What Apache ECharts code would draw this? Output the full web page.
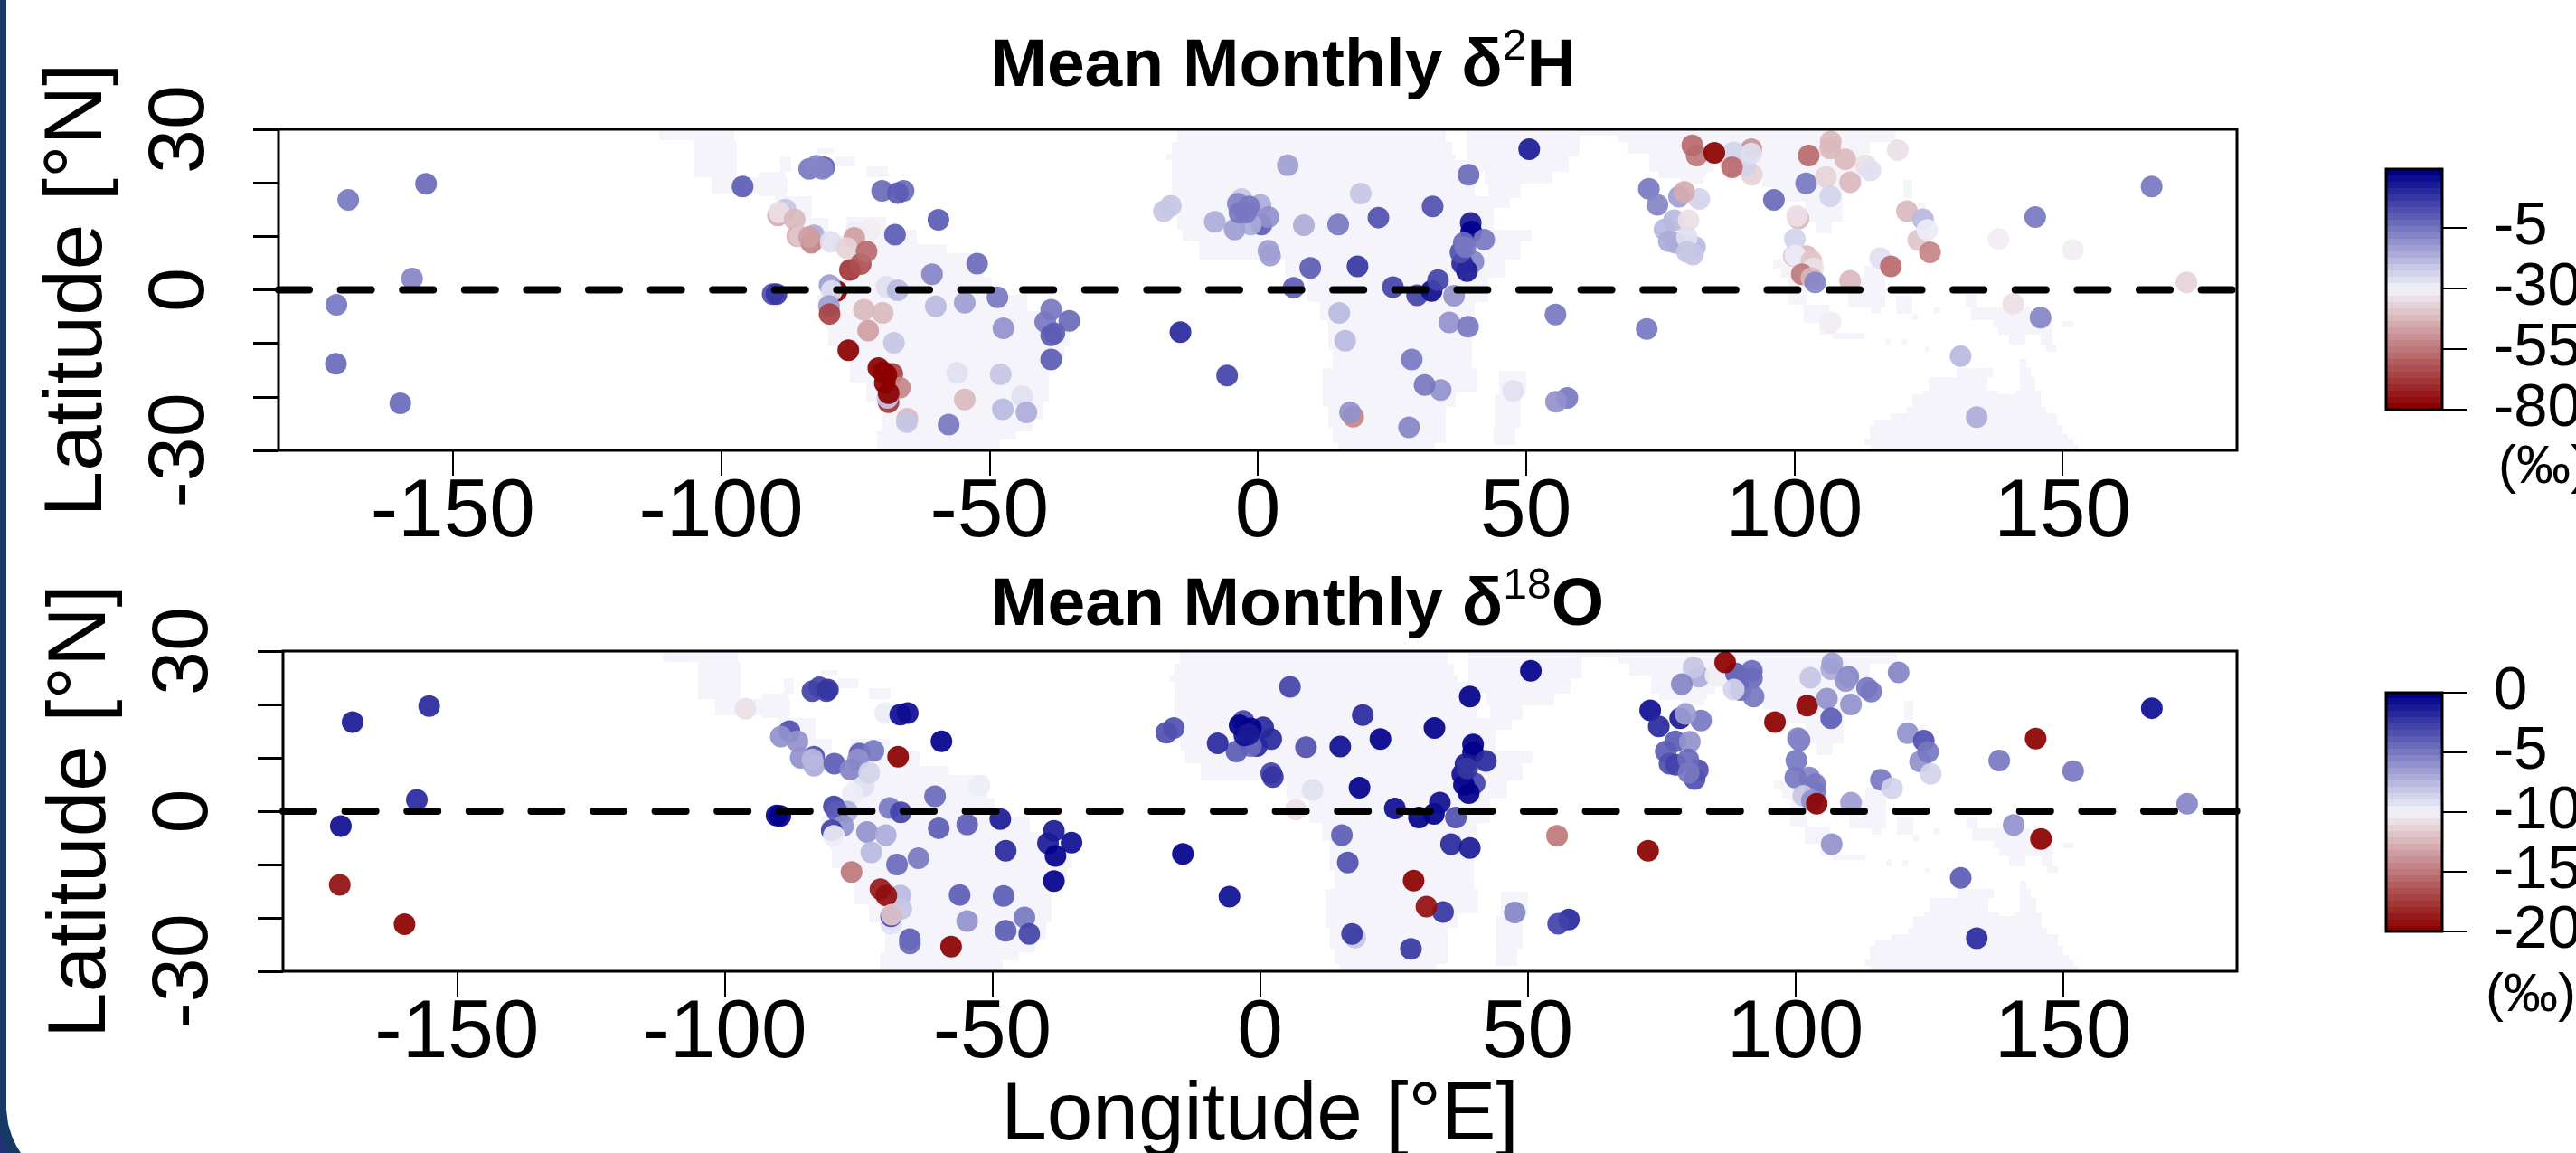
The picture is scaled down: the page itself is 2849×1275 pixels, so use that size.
<!DOCTYPE html>
<html>
<head>
<meta charset="utf-8">
<style>html,body{margin:0;padding:0;background:#fff}#c{width:2849px;height:1275px}</style>
<script src="https://cdn.jsdelivr.net/npm/echarts@6/dist/echarts.min.js"></script>
</head>
<body>
<div id="c"></div>
<script>
// Mean monthly d2H stations: [longitude, latitude, value in permil]
const h2Stations = [
[-169.5,16.8,-5],[-155,19.8,-2],[-157.6,2.1,-8],[-171.7,-2.8,-6],[-171.8,-13.8,-2],[-159.8,-21.2,-3],[-96,19.3,-1],
[-80.8,22.9,-1],[-83.6,22.6,-6],[-81.1,22.6,-8],[-82.2,23.2,-7],[-70,18.5,-1.5],[-66,18.5,-2],[-67.1,18.1,-0.5],[-59.5,13.1,0],[-67.6,10.3,-1],
[-88,15,-21],[-89.4,13.9,-45],[-89.2,14.5,-35],[-86.3,13.2,-42],[-85.8,10,-45],[-82.7,10.2,-15],[-85.4,10,-40],[-83.2,8.8,-52],[-83.6,9.9,-48],
[-74.9,10.8,-29],[-72.3,11.3,-30],[-79.6,9,-25],[-75.2,9.7,-48],[-76.6,7.8,-36],[-76,3.7,-67],[-74,4.8,-62],[-72.9,7.2,-58],
[-78.5,-0.2,-80],[-79.8,0.9,-12],[-79.4,-0.2,-25],[-69.2,0.6,-27],[-67.1,-0.1,-19],[-60.7,2.9,-8],[-52.3,4.9,-3],[-60,-3.1,-18],[-54.6,-2.4,-12],[-48.5,-1.4,-6],
[-38.5,-3.7,-5],[-39.6,-6,-6],[-35.1,-5.8,-2],[-37.9,-8.1,-1],[-38.5,-8.5,1],[-47.4,-7.2,-10],[-38.5,-13,-1],[-90.4,-0.8,3],[-89.7,-0.8,8],
[-79.9,-3,-14],[-79.8,-4.5,-65],[-73.4,-3.7,-42],[-69.9,-4.3,-43],[-72.6,-7.6,-47],[-67.8,-9.9,-21],[-76.3,-11.3,-80],
[-68.1,-15.7,-65],[-66.7,-18.3,-52],[-68.8,-21,-68],[-69,-20.2,-22],[-70.7,-14.6,-80],[-69.8,-15.4,-80],[-69.2,-15.9,-80],[-69.5,-17.4,-80],[-68.8,-19.3,-80],
[-65.3,-24.1,-42],[-65.4,-24.7,-21],[-57.6,-25.2,-5],[-56,-15.5,-25],[-47.9,-15.8,-21],[-54.6,-20.5,-42],[-47.5,-22.3,-18],[-43.9,-19.9,-26],[-43.1,-22.9,-15],
[50.6,26.3,14],[5.6,23.3,-12],[39.3,21.5,-3],[72.9,18.9,-4],[19.2,18,-21],[32.6,15.6,4],[-16.2,15.7,-21],[-17.5,14.7,-20],
[-3,17,-20],[0.5,15.9,-15],[0.7,12.2,0],[-3.7,16.1,-8],[-1.6,15.6,-6],[2,13.6,-11],[-1.3,12.2,-15],[-4.3,11.3,-14],[-3.4,14.4,-6],[-2.2,14.4,-4],[-8,12.7,-16],
[8.6,12.1,-16],[15,12.2,-5],[22.5,13.5,4],[2,7.3,-12],[2.3,6.4,-12],[9.8,4.1,-1],[18.6,4.4,7],[6.7,0.4,1],[25.2,0.5,5],[36.6,-1.1,-11],[29.7,-1,6],[32.4,-0.2,15],[33.6,1.8,5],
[35.7,-6.1,-9],[39.2,-6.9,-6],[55.5,-4.6,-5],[15.2,-4.3,-17],[16.3,-9.5,-18],[28.7,-13,-5],[34.1,-18.7,-9],[31.1,-17.8,-4],[47.6,-18.9,-26],[57.7,-20.2,-5],[55.6,-20.9,-9],
[-14.4,-7.9,12],[-5.7,-16,6],[17.8,-23.7,-52],[17.2,-22.9,-11],[28.2,-25.7,-8],
[39.7,12.5,14],[39.8,10.9,20],[42.2,9.4,-4],[40.2,5.3,-8],[39,3.5,13],[38.1,4.9,11],[37.8,7,3],[38.4,8.8,-3],[38.7,8,-6],
[81.8,25.1,-55],[81,27,-58],[92,26.3,-50],[92.1,21.5,-36],[90.9,23.2,-24],[88.7,25.7,-24],[85.1,25.6,-80],[92,25.5,-26],[88.4,22.9,-58],
[74.5,15.9,-8],[78.5,17.4,-12],[82.3,17,-24],[79.5,18.3,-44],[77.6,13,-19],[75.8,11.3,-19],[80.3,13,-34],[76.6,9.1,-16],[77.9,8.8,-15],[81.5,8,-18],[80,9.8,-26],[80,7.1,-20],[81.1,6.6,-20],
[96.2,16.8,-3],[102.7,25.1,-58],[102.2,19.9,-6],[106.7,26.4,-42],[106.8,27.7,-43],[109.5,24.4,-42],[113.3,23.3,-35],[114.2,22.3,-27],[105.9,21.1,-36],[110.4,20.1,-41],[106.7,17.5,-24],[119.3,26.1,-35],
[100.8,13.3,-42],[100.5,13.8,-35],[100.1,9.5,-24],[102.3,6.3,-42],[99.9,6.3,-38],[100.2,6.4,-28],[103.2,5.4,-38],[103.5,4,-33],[101.4,2.9,-55],[103.2,2.2,-43],[103.9,1.4,-8],[110.4,1.7,-42],
[116,5.9,-27],[118,4.4,-58],[121,14.7,-41],[124,13.2,-18],[123.1,9.3,-39],[124.8,11.2,-29],[125.3,7,-53],[138.1,9.5,-30],[144.9,13.6,-5],[151.9,7.5,-30],
[140.8,-2.6,-34],[145.9,-5.2,-8],[106.8,-6.1,-31],[131,-12.4,-19],[134,-23.8,-15],[72.5,-7.3,-4],[166.6,19.3,-5],[173.1,1.4,-37]
];
// Mean monthly d18O stations: [longitude, latitude, value in permil]
const o18Stations = [
[-169.5,16.7,-1.5],[-155.2,19.7,-2],[-157.5,2.1,-2],[-171.7,-2.8,-1],[-171.9,-13.8,-19],[-159.8,-21.2,-20],[-96.1,19.2,-11],
[-83.6,22.5,-3],[-82.3,23.2,-3],[-81,22.5,-3],[-80.7,22.8,-2.5],[-70,18.4,-9.5],[-67.2,18.1,-1],[-65.8,18.4,-1],[-59.5,13.1,-0.5],[-67.6,10.2,-20],
[-87.9,15,-3.5],[-89.5,14,-6],[-86.4,13.1,-6],[-83.3,10.2,-3.5],[-85.8,10,-6],[-83.3,8.5,-7],[-83.6,9.7,-7.5],[-79.5,8.9,-4],
[-74.8,10.8,-4],[-72.2,11.3,-5],[-75.1,9.7,-6],[-76.5,7.8,-5.5],[-74,4.7,-9],[-76.1,3.3,-9.5],[-73,7.2,-8.5],
[-77.1,-0.1,-7],[-79.6,0.9,-3],[-79,-0.1,-4],[-69.2,0.6,-5],[-67.1,-0.2,-3],[-60.7,2.8,-4.5],[-52.4,4.8,-9.5],[-60,-3.2,-4],[-54.7,-2.5,-4],[-48.5,-1.5,-1.5],
[-38.5,-3.7,-1.5],[-39.6,-6,-1.5],[-35.2,-5.9,-1],[-38.2,-8.4,-0.5],[-47.5,-7.4,-2],[-38.5,-13.1,-0.5],[-90.3,-0.8,0],[-89.6,-0.9,0],
[-77.9,-2.8,-6],[-80,-3.6,-3],[-79.6,-4.6,-9.5],[-73.4,-3.9,-6],[-69.9,-4.5,-7],[-72.6,-7.7,-7.5],[-67.8,-10,-4.5],[-63.8,-8.8,-5],[-76.3,-11.4,-15],
[-67.2,-15.8,-7.5],[-67,-18.3,-8],[-68.9,-21.1,-9],[-68.9,-19.7,-3],[-70.9,-14.6,-18.5],[-69.8,-15.8,-19],[-68.8,-19.4,-12],
[-65.4,-24,-4],[-65.4,-24.8,-4.5],[-57.7,-25.4,-20],[-56.1,-15.7,-4],[-47.9,-15.9,-4],[-54.7,-20.6,-6],[-44,-19.9,-5],[-47.5,-22.4,-4],[-43.1,-23,-3],
[50.6,26.3,0],[5.6,23.3,-3],[39.2,21.5,0],[19.2,18,-2],[32.6,15.6,0],[-16.1,15.6,-3.5],[-17.5,14.7,-3.5],
[-3.1,16.9,-3],[0.6,15.7,-2],[-0.6,12.2,-2],[-1.7,15.5,0],[-3.8,16.1,-0.5],[2.1,13.5,-2],[-1.7,12.2,-4.5],[-4.4,11.2,-4],[-2.9,14.2,-1],[-2.1,14.4,-1.5],[-7.9,12.7,-2],
[8.6,12,-3.5],[15,12.1,-1],[22.5,13.5,-0.5],[2.1,7.1,-3],[2.4,6.4,-2.5],[9.8,4,-9],[18.6,4.4,-0.5],[6.7,0.3,-11],[25.2,0.5,-1],[36.6,-1.2,-3.5],[29.7,-1.2,-0.5],[32.5,-0.5,-0.5],[33.6,1.6,-1],
[35.7,-6.2,-2],[39.2,-6.9,-1.5],[55.5,-4.6,-15],[15.3,-4.5,-4],[16.4,-9.6,-3.5],[28.7,-13,-20],[34.2,-18.9,-2.5],[31.1,-17.9,-19],[47.6,-19,-5.5],[57.7,-20.3,-2],[55.7,-21.1,-3],
[-14.4,-8,0],[-5.7,-16,-1],[17.8,-23.7,-8],[17.2,-23,-2.5],[28.2,-25.8,-2.5],
[39.8,12.5,0],[39.8,11,0],[42.2,9.4,-2],[40.1,5.2,-3],[39,3.4,-0.5],[38.1,4.9,0],[37.8,6.9,-1],[38.4,8.8,-1.5],[38.7,8,-2.5],
[72.9,18.9,-1],[82,25.2,-7],[81,26.9,-8],[78.8,23.8,-5.5],[85.1,25.5,-10.5],[88.9,25.8,-4],[89.8,22.7,-4.5],[91.9,26.3,-4.5],[91.9,24.9,-4.5],[92.2,21.5,-5],[88.5,22.8,-8.5],[86.9,27.9,-20],
[74.5,15.9,-2],[78.5,17.4,-1.5],[82.4,17,-5],[79.5,18.2,-6.5],[77.6,13.1,-4],[75.8,11.2,-4],[80.3,13,-6],[76.5,8.9,-3.5],[77.7,8.7,-3],[81.8,7.7,-3.5],[81.2,6,-3.5],[80,9.7,-4.5],[80.1,7.2,-5],
[96.2,16.7,-20],[102.2,19.8,-20],[106.7,26.6,-7],[106.9,27.7,-6.5],[109.9,25.2,-5.5],[109.4,24.4,-6],[113.4,23.1,-5],[114.2,22.4,-5],[102.8,25,-8],[105.9,21.1,-6],[110.4,20,-6],[106.7,17.4,-4],[119.3,26,-5.5],
[100.8,13.3,-5],[100.5,13.7,-5.5],[100.2,9.5,-5],[102.6,6.3,-5.5],[100,6.3,-5],[103.7,5.1,-5],[103.7,3.7,-5],[101.5,2.9,-8],[103.1,2,-6],[104,1.4,-20],[110.4,1.6,-6.5],
[116,5.9,-5],[118.1,4.3,-8.5],[121,14.6,-6],[124,13.2,-3.5],[123.3,9.3,-6],[124.8,11.1,-5],[125.3,7,-8.5],[138.1,9.5,-5],[144.9,13.6,-20],[151.9,7.5,-5],
[140.8,-2.6,-6],[145.9,-5.2,-20],[106.8,-6.2,-6],[130.9,-12.5,-4],[133.9,-23.8,-2],[72.5,-7.4,-20],[166.6,19.3,-1],[173.2,1.4,-5.5]
];
// Land cells behind the stations: [latTop, latBottom, lonWest, lonEast]
const landRuns = [
// North and Central America
[30,28,-111.5,-97.5],[28,21,-105,-97],[21,18,-101.7,-87.7],[25,22,-89,-87],[22,17.5,-93,-88],[17.5,13.5,-90,-83],[13.5,10,-87,-80],[10,8,-84,-76],
[26.5,25.5,-82,-79],[25,23,-78.8,-75],[23,21,-73,-69],
// South America
[13.6,11.3,-76.6,-69.2],[11.3,8.5,-77,-63.6],[8.5,6.8,-76.6,-58],[6.8,2.3,-77,-51],[2.3,-1,-80,-49.6],[-1,-3.9,-82,-43],[-3.9,-7.2,-80.5,-36],[-7.2,-10.6,-80,-35],
[-10.6,-12.9,-77,-36],[-12.9,-17.4,-76,-39],[-17.4,-20.8,-73,-39],[-20.8,-24.1,-70,-40],[-24.1,-26.4,-70,-42],[-26.4,-28,-71,-45],[-28,-30,-71,-48],
// Africa
[30,27.7,-15,35],[27.7,25.4,-16,36.3],[25.4,24.3,-17,36.9],[24.3,17.5,-16,40.5],[17.5,15.3,-15,43],[15.3,11.3,-15,44],[11.3,9,-14,51],[9,5.7,-11,49],[5.7,2.3,5,46.2],
[2.3,-2.2,9.2,43],[-2.2,-5.6,11.6,40.5],[-5.6,-11.2,13.1,40],[-11.2,-14.6,14,40],[-14.6,-19.1,12.2,40.8],[-19.1,-21.9,12.2,36.9],[-21.9,-25.8,13.1,35.1],[-25.8,-28.7,14,35.1],[-28.7,-30,15,33],
// Madagascar
[-15.1,-19.6,45,50],[-19.6,-25.8,44.1,49],[-25.8,-29,44,48],
// Arabia and the Near East
[29.6,24.9,39,60],[24.9,22,39,58],[22,19.8,42.3,55],[19.8,17.2,43,49],[17.2,15.3,43,47],[30,28.9,59,67],
// Asia
[29.6,27.7,67,119],[27.7,25.4,69,114],[25.4,23.2,73,113],[23.2,22.1,73,85],[22.1,20.9,74.6,83.6],[20.9,19.8,78.8,83],[23.2,20.9,91,112.5],[20.9,19.2,94,112.5],[19.2,16.4,96,109],[16.4,12.7,102,109],[12.7,10.5,104,107],
// Malay Peninsula, Sumatra and Java
[5.7,4,96,100],[4,2.3,97.5,101],[2.3,-2.8,99,102.3],[-2.8,-6.1,101.7,106.5],[-6.1,-8.4,104.7,107.7],[-8.1,-9.2,107,113],
// Borneo and islands
[4.4,2.3,113,116.7],[2.3,-3.3,110,117],[-3.3,-4.4,114.3,116.1],[20.6,17.2,120.4,122],[16.1,15,123,124.3],[-1.1,-4.4,119,122],[-4.4,-5.6,122,123],[-3.3,-4.4,126,127],[-5.8,-7,137,139],[-9.2,-10.3,117,118],[-9.2,-10.3,120,121],[-10.6,-11.5,124.3,125],
// New Guinea and neighbours
[-1,-3.3,132,134],[-3.3,-5.6,133,144],[-5.6,-8.4,138,148],[-8.4,-10.3,140,143],[-8.4,-10.3,146,148],[-10.3,-11.5,147,149],[-5.9,-7,150,152],
// Australia
[-13,-14.6,142,143.2],[-14.6,-16.3,130.3,137],[-14.6,-16.3,142,144],[-16.3,-18.9,125,136],[-16.3,-18.9,142,145],[-18.9,-19.6,124,138],[-18.9,-19.6,141,146],[-19.6,-21.9,122,146],[-21.9,-23,121,147],[-23,-24.2,118,149],[-24.2,-25.3,115,149],[-25.3,-27,114,150],[-27,-27.8,114,151],[-27.8,-29,113,152],[-29,-30,114,153]
];
const lonTicks = [-150,-100,-50,0,50,100,150];
const latLabels = [-30,0,30];
const h2BarStep = 25;   // colour key ticks -80, -55, -30, -5
const o18BarStep = 10;  // colour key ticks -20, -10, 0 and, on a second scale, -15, -5
const zeroLine = [[-182.5,0],[182.5,0]];
const titleH2 = '{a|Mean Monthly \u03b4}{s|2}{a|H}';
const titleO18 = '{a|Mean Monthly \u03b4}{s|18}{a|O}';

const FONT = '"Liberation Sans", Arial, sans-serif';
const ramp = ['#8B0000','#F4F4FA','#00008B'];
const chart = echarts.init(document.getElementById('c'), null, {renderer:'canvas'});

const richTitle = {
  a:{fontFamily:FONT,fontSize:75,fontWeight:'bold',color:'#000',lineHeight:90},
  s:{fontFamily:FONT,fontSize:48,fontWeight:'normal',color:'#000',lineHeight:90,verticalAlign:'top'}
};
function xAxisFor(i, extra){
  return Object.assign({
    type:'value', gridIndex:i, min:-182.5, max:182.5, splitLine:{show:false},
    axisLine:{show:false,onZero:false},
    axisTick:{show:true,length:28,inside:false,lineStyle:{color:'#000',width:2},customValues:lonTicks},
    axisLabel:{show:true,fontFamily:FONT,fontSize:91,color:'#000',margin:24,customValues:lonTicks,showMinLabel:true,showMaxLabel:true,hideOverlap:false}
  },extra||{});
}
function yAxisFor(i, margin, gap){
  return {
    type:'value', gridIndex:i, min:-30, max:30, interval:10, splitLine:{show:false},
    axisLine:{show:false,onZero:false},
    axisTick:{show:true,length:28,lineStyle:{color:'#000',width:3}},
    axisLabel:{show:true,fontFamily:FONT,fontSize:88,color:'#000',rotate:90,margin:margin,customValues:latLabels,showMinLabel:true,showMaxLabel:true,hideOverlap:false},
    name:'Latitude [\u00b0N]',nameLocation:'middle',nameRotate:90,nameGap:gap,
    nameTextStyle:{fontFamily:FONT,fontSize:91,color:'#000'}
  };
}
function barAxes(i, lo, hi, step){
  return {
    x:{type:'value',gridIndex:i,min:0,max:1,show:false},
    y:{type:'value',gridIndex:i,min:lo,max:hi,interval:step,position:'right',splitLine:{show:false},
      axisLine:{show:false,onZero:false},
      axisTick:{show:true,length:28,lineStyle:{color:'#000',width:2}},
      axisLabel:{show:true,interval:0,fontFamily:FONT,fontSize:67,lineHeight:50,color:'#000',margin:57,showMinLabel:true,showMaxLabel:true,hideOverlap:false}}
  };
}
// Grid 2 holds the d2H key's box, grid 4 its ticks (the key runs past the last tick up to +20).
const box = barAxes(2,0,1,1);
box.y.show = false;
const bar1 = barAxes(4,-80,-5,h2BarStep);
const bar2 = barAxes(3,-20,0,o18BarStep);
const bar2b = barAxes(5,-15,-5,o18BarStep);

function landSeries(i){
  return {
    type:'custom', xAxisIndex:i, yAxisIndex:i, silent:true, z:1, clip:true,
    data:landRuns, encode:{x:[2,3],y:[0,1]},
    renderItem:function(params,api){
      const p0 = api.coord([api.value(2),api.value(0)]);
      const p1 = api.coord([api.value(3),api.value(1)]);
      return {type:'rect',shape:{x:Math.round(p0[0]),y:Math.round(p0[1]),width:Math.round(p1[0])-Math.round(p0[0]),height:Math.round(p1[1])-Math.round(p0[1])},style:{fill:'#F4F4FA'}};
    }
  };
}
function stationSeries(i,data){
  return {type:'scatter',xAxisIndex:i,yAxisIndex:i,data:data,symbol:'circle',symbolSize:24,z:3,silent:true,
    itemStyle:{opacity:0.92},emphasis:{disabled:true},animation:false};
}
function dashSeries(i){
  return {type:'line',xAxisIndex:i,yAxisIndex:i,data:zeroLine,showSymbol:false,silent:true,z:5,clip:true,
    lineStyle:{color:'#000',width:8,type:[34,34.6],cap:'round'}};
}
function colourKey(seriesIndex,lo,hi,top){
  return {type:'piecewise',seriesIndex:seriesIndex,dimension:2,min:lo,max:hi,splitNumber:38,precision:3,
    left:2639,top:top,orient:'vertical',itemWidth:62,itemHeight:7,itemGap:0,padding:0,showLabel:false,
    selectedMode:false,hoverLink:false,itemSymbol:'rect',inRange:{color:ramp},z:2};
}
const gridBase = {show:true,borderColor:'#000',borderWidth:3,backgroundColor:'transparent',outerBoundsMode:'none',containLabel:false};

chart.setOption({
  animation:false,
  backgroundColor:'#fff',
  textStyle:{fontFamily:FONT},
  title:[
    {text:titleH2,left:1414,top:24,textAlign:'center',textStyle:{rich:richTitle}},
    {text:titleO18,left:1430,top:620,textAlign:'center',textStyle:{rich:richTitle}}
  ],
  grid:[
    Object.assign({left:308,top:143,width:2166,height:355,z:4},gridBase),
    Object.assign({left:313,top:720,width:2161,height:354,z:4},gridBase),
    Object.assign({left:2639,top:187,width:62,height:266,z:6},gridBase),
    Object.assign({left:2639,top:766,width:62,height:264,z:6},gridBase),
    Object.assign({},gridBase,{left:2639,top:252,width:62,height:201,z:6,show:false}),
    Object.assign({},gridBase,{left:2639,top:832,width:62,height:132,z:6,show:false})
  ],
  xAxis:[
    xAxisFor(0),
    xAxisFor(1,{name:'Longitude [\u00b0E]',nameLocation:'middle',nameGap:106,nameTextStyle:{fontFamily:FONT,fontSize:91,color:'#000'}}),
    box.x,bar2.x,bar1.x,bar2b.x
  ],
  yAxis:[yAxisFor(0,63,176),yAxisFor(1,64,177),box.y,bar2.y,bar1.y,bar2b.y],
  visualMap:[colourKey(1,-80,20,187),colourKey(4,-20,0,765)],
  series:[
    landSeries(0),stationSeries(0,h2Stations),dashSeries(0),
    landSeries(1),stationSeries(1,o18Stations),dashSeries(1)
  ],
  graphic:[
    {type:'polygon',silent:true,z:20,shape:{points:[[0,0],[7,0],[7,1227],[9,1243],[13,1256],[18,1267],[23,1275],[0,1275]]},style:{fill:'#163A63'}},
    {type:'polygon',silent:true,z:21,shape:{points:[[0,1255],[8,1275],[0,1275]]},style:{fill:'#23307A'}},
    {type:'text',silent:true,z:20,left:2763,top:487,style:{text:'(\u2030)',fontFamily:FONT,fontSize:60,fill:'#000'}},
    {type:'text',silent:true,z:20,left:2749,top:1071,style:{text:'(\u2030)',fontFamily:FONT,fontSize:60,fill:'#000'}}
  ]
});
</script>
</body>
</html>
